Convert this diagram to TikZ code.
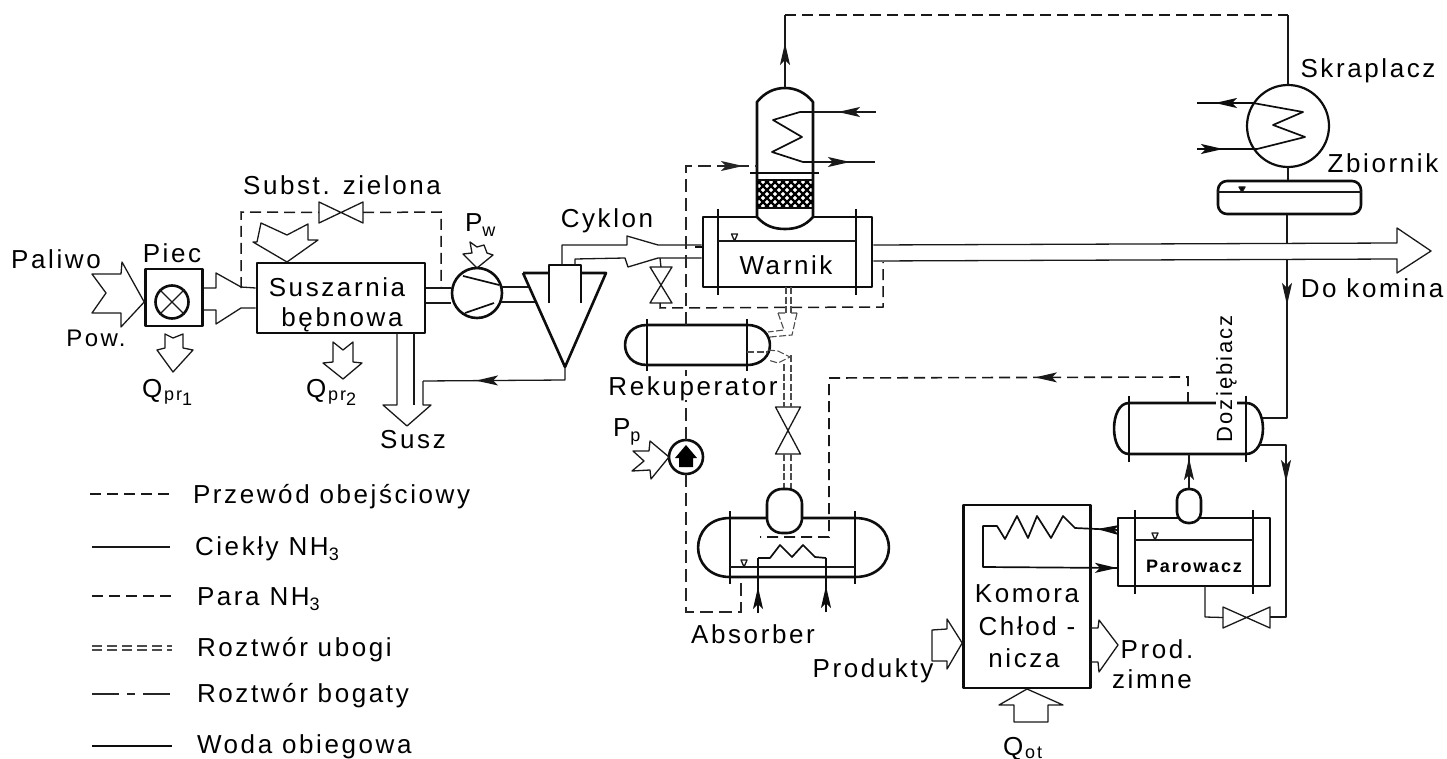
\documentclass[tikz,border=0pt]{standalone}
\usepackage{fontspec}
\setmainfont[LetterSpace=10]{Liberation Sans}
\usetikzlibrary{arrows.meta,decorations.markings,calc}
\newcommand{\hvessel}[8]{%
  \node[ghost,minimum width={(#3-#2)*1pt},minimum height={(#5-#4)*1pt}] (#1) at ({(#2+#3)/2},{(#4+#5)/2}) {};
  \draw[heavy,fill=white] (#1.north west) -- (#1.north east)
    .. controls +({#7*1.33},0) and +({#7*1.33},0) .. (#1.south east) -- (#1.south west)
    .. controls +({-#6*1.33},0) and +({-#6*1.33},0) .. (#1.north west) -- cycle;
  \draw[heavy] ([yshift=#8pt]#1.north west) -- ([yshift=-#8pt]#1.south west);
  \draw[heavy] ([yshift=#8pt]#1.north east) -- ([yshift=-#8pt]#1.south east);
}
\newcommand{\hshell}[7]{%
  \node[heavy,draw,inner sep=0pt,minimum width={(#2-#1)*1pt},minimum height={(#4-#3)*1pt}] (#7) at ({(#1+#2)/2},{(#3+#4)/2}) {};
  \draw[heavy] ({#5},{#3-8}) -- ({#5},{#4+8});
  \draw[heavy] ({#6},{#3-8}) -- ({#6},{#4+8});
}
\newcommand{\lvl}[2]{\draw[pipe] (#1,#2) -- ++(-3,-7) -- ++(6,0) -- cycle;}
\newcommand{\hvalve}[1]{\draw[pipe] (#1.north west) -- (#1.south east) -- (#1.north east) -- (#1.south west) -- cycle;}
\newcommand{\vvalve}[1]{\draw[pipe] (#1.north west) -- (#1.north east) -- (#1.south west) -- (#1.south east) -- cycle;}
\newcommand{\ssub}[1]{{\fontsize{18}{18}\selectfont #1}}
\begin{document}
\begin{tikzpicture}[x=1pt,y=-1pt,
  pipe/.style={line width=1.3pt,black!90,line join=round},
  heavy/.style={line width=2.6pt,black!95,line join=round},
  coilw/.style={line width=1.7pt,black!95,line join=round},
  vapour/.style={line width=1.6pt,black!90,dash pattern=on 11pt off 6pt},
  bypass/.style={line width=1.5pt,black!90,dash pattern=on 11pt off 6pt},
  rich/.style={line width=1.1pt,black!85,dash pattern=on 13pt off 6pt},
  poor/.style={line width=1.1pt,black!70,dash pattern=on 7pt off 2.5pt},
  ghost/.style={inner sep=0pt,outer sep=0pt,draw=none},
  lbl/.style={inner sep=0pt,outer sep=0pt,anchor=base,font=\fontsize{26}{28}\selectfont,text=black},
  lblw/.style={lbl,anchor=base west},
  arrowat/.style={postaction={decorate,decoration={markings,mark=at position #1pt with {\arrow{Stealth[length=22pt,width=10pt,inset=5pt]}}}}}
]
\path[use as bounding box] (0,0) rectangle (1447,759);

%% ---- left train: furnace, dryer
\node[heavy,draw,inner sep=0pt,minimum size=57pt] (piec) at (174,297.5) {};
\node[heavy,draw,circle,inner sep=0pt,minimum size=33pt] (palnik) at (172,302) {};
\draw[pipe] (palnik.north west) -- (palnik.south east) (palnik.north east) -- (palnik.south west);
\draw[pipe] (92,274) -- (121,274) -- (122,262) -- (piec.west |- palnik) -- (121,327) -- (121,313) -- (92,313) -- (106,293) -- cycle;
\node[heavy,draw,inner sep=0pt,minimum width=168pt,minimum height=70pt] (susz) at (341,298) {};
\draw[pipe] (piec.east |- 0,288) -- (216,288) -- (216,273) -- (241,287) -- (susz.west |- 0,288);
\draw[pipe] (piec.east |- 0,310) -- (216,310) -- (216,324) -- (241,308) -- (susz.west |- 0,308);
\draw[pipe] (165,334) -- (173,338) -- (183,334) -- (183,348) -- (193,350) -- (173,372) -- (157,350) -- (165,348) -- cycle;
\draw[pipe] (333,342) -- (343,350) -- (353,342) -- (353,362) -- (362,363) -- (343,379) -- (323,363) -- (333,362) -- cycle;
\draw[pipe] (261,223) -- (287,235) -- (308,224) -- (308,240) -- (318,240) -- (287,262) -- (253,242) -- (257,242) -- cycle;
\node[ghost,minimum width=44pt,minimum height=21pt] (vz) at (341,212.5) {};
\hvalve{vz}
\draw[bypass] (241,288) -- (241,212) -- (vz.west);
\draw[bypass] (vz.east) -- (441,212) -- (441,287);

%% product outlet
\draw[pipe] (397,333) -- (397,405) -- (383,405) -- (407,426) -- (431,405) -- (423,405) -- (423,381);
\draw[pipe] (414,333) -- (414,405);

%% fan and cyclone
\node[heavy,draw,circle,inner sep=0pt,minimum size=50pt] (fan) at (477,293) {};
\draw[coilw] (463,276) -- (499,285) (465,313) -- (494,303);
\draw[pipe] (susz.east |- 0,288) -- (fan.west |- 0,288) (susz.east |- 0,303) -- (fan.west |- 0,303);
\coordinate (cL) at (565,367);
\draw[pipe] (501,287) -- (530,287) (501,302) -- (536,302);
\draw[heavy] (523,273) -- (549,273) (581,273) -- (606,273) -- (cL) -- (523,273);
\draw[heavy] (549,303) -- (549,265) -- (581,265) -- (581,303);
\draw[pipe] (470,242) -- (477,247) -- (484,245) -- (487,253) -- (493,255) -- (477,268) -- (463,254) -- (472,253) -- cycle;
\draw[pipe,arrowat=102] (cL) -- (565,380) -- (423,381);

%% Warnik
\hshell{703}{872}{217}{287}{718}{856}{warnik}
\draw[pipe] (718,241) -- (856,241);
\lvl{734.5}{241}
\draw[heavy] (695,247) -- (warnik.west |- 0,247);
%% column
\node[ghost,minimum width=56pt,minimum height=141pt] (kol) at (785,158.5) {};
\draw[heavy,fill=white] (kol.south west |- 0,217) -- (757,102) .. controls (765,92) and (775,88) .. (kol.north)
  .. controls (795,88) and (805,92) .. (813,102) -- (813,217) .. controls (805,226) and (796,229) .. (kol.south)
  .. controls (774,229) and (765,226) .. (757,217) -- cycle;
\begin{scope}
  \clip (757,180) rectangle (813,208);
  \foreach \q in {-32,-24,...,64}{
    \draw[line width=2.3pt] (757+\q,180) -- ++(28,28);
    \draw[line width=2.3pt] (757+\q+28,180) -- ++(-28,28);
  }
\end{scope}
\draw[heavy] (757,180) -- (813,180) (757,208) -- (813,208);
\draw[heavy] (750,173) -- (819,173);
\coordinate (kin) at (876,112);
\coordinate (kout) at (875,162);
\draw[pipe,arrowat=38] (kin) -- (kol.east |- kin);
\draw[coilw] (kol.east |- kin) -- (800,112) -- (773,120) -- (802,137) -- (772,152) -- (803,162) -- (kol.east |- kout);
\draw[pipe,arrowat=37] (kol.east |- kout) -- (kout);

%% cyclone gas line to Warnik
\draw[pipe] (562,265) -- (562,245) -- (627,245) -- (627,236) -- (658,245) -- (warnik.west |- 0,245);
\draw[pipe] (575,265) -- (575,259) -- (625,258) -- (628,267) -- (658,258) -- (warnik.west |- 0,258);
\node[ghost,minimum width=22pt,minimum height=36pt] (vb) at (661,285) {};
\vvalve{vb}
\draw[pipe] (660,258) -- (vb.north);
\coordinate (bp2) at (883,262);
\draw[bypass] (660,303) -- (660,308) -- (883,307) -- (bp2);

%% outlet to stack
\draw[pipe] (warnik.east |- 0,245) -- (1397,243) -- (1397,228) -- (1431,251) -- (1397,273) -- (1397,259) -- (warnik.east |- 0,261);

%% condenser and receiver
\node[circle,draw,line width=2.2pt,black!95,inner sep=0pt,outer sep=0pt,minimum size=82pt] (skr) at (1288,126) {};
\coordinate (sk1) at (1197,103);
\coordinate (sk2) at (1197,149);
\draw[coilw,arrowat=38] (1253,103) -- (sk1);
\draw[coilw,arrowat=26] (sk2) -- (1257,149);
\draw[coilw] (1253,103) -- (1303,112) -- (1273,125) -- (1305,137) -- (1257,149);
\coordinate (top1) at (785,15);
\coordinate (top2) at (1288,15);
\draw[pipe,arrowat=45] (kol.north) -- (top1);
\draw[vapour] (top1) -- (top2);
\draw[pipe] (top2) -- (skr.north);
\node[heavy,draw,rounded corners=9pt,inner sep=0pt,minimum width=143pt,minimum height=33pt] (zb) at (1289.5,197.5) {};
\draw[pipe] (zb.north west |- 0,192) -- (zb.north east |- 0,192);
\draw[pipe,fill=black] (1242,192) -- ++(-3,-5) -- ++(6,0) -- cycle;
\draw[pipe] (skr.south) -- (zb.north -| skr.south);
\coordinate (z1) at (1287,243);
\coordinate (z2) at (1287,259);
\draw[pipe] (zb.south -| z1) -- (z1);
\draw[pipe,arrowat=46] (z2) -- (1287,418) -- (1262,418);

%% Rekuperator
\hvessel{rek}{647}{747}{325}{365}{22}{23}{6}
\coordinate (rk1) at (686,325);
\coordinate (rk2) at (686,365);
\draw[rich,arrowat=216] (rk1) -- (686,166) -- (kol.west |- 0,166);
\node[heavy,draw,circle,inner sep=0pt,outer sep=0pt,minimum size=34pt] (pompa) at (686,457) {};
\draw[rich] (pompa.north) -- (rk2);
\fill[black] (675,458) -- (686,445) -- (697,458) -- (693,458) -- (693,467) -- (679,467) -- (679,458) -- cycle;
\draw[pipe] (633,451) -- (649,451) -- (650,441) -- (pompa.west) -- (651,479) -- (650,470) -- (632,471) -- (644,461) -- cycle;

%% rich/poor solution double lines
\draw[poor] (786,287) -- (786,313) (791,287) -- (791,313);
\draw[poor] (778,313) -- (785,313) (778,313) -- (784,330) -- (768,332);
\draw[poor] (797,313) -- (792,335) -- (770,337) (791,313) -- (797,313);
\draw[poor] (747,352) -- (768,352);
\draw[poor] (768,350) -- (778,351) -- (790,357) -- (778,363) -- (768,360);
\node[ghost,minimum width=25pt,minimum height=47pt] (vr) at (788,430.5) {};
\vvalve{vr}
\draw[poor] (784,364) -- (784,407) (791,355) -- (791,407);
\draw[poor] (784,454) -- (784,489) (791,454) -- (791,489);

%% Absorber
\hvessel{abs}{730}{855}{518}{577}{32}{34}{7}
\node[heavy,draw,fill=white,rounded corners=15pt,inner sep=0pt,outer sep=0pt,minimum width=35pt,minimum height=44pt] (kap) at (784.5,511) {};
\draw[pipe,line width=1.6pt] (abs.west |- 0,567) -- (abs.east |- 0,567);
\lvl{744}{567}
\coordinate (ac1) at (758,613);
\coordinate (ac2) at (826,612);
\draw[coilw,arrowat=26] (ac1) -- (758,558);
\draw[coilw,arrowat=26] (ac2) -- (826,558);
\draw[coilw] (758,558) -- (770,558) -- (780,545) -- (792,557) -- (803,545) -- (815,557) -- (826,558);
\coordinate (ab1) at (741,578);
\draw[rich] (pompa.south) -- (686,612) -- (741,612) -- (ab1);

%% Doziebiacz, Parowacz
\hvessel{doz}{1129}{1246}{403}{454}{15}{17}{7.5}
\draw[vapour,arrowat=179] (doz.north -| 1188,0) -- (1188,377) -- (829,378) -- (829,537) -- (760,537);
\draw[pipe,arrowat=63] (1260,445) -- (1286,445) -- (1286,617) -- (1270,617);
\node[ghost,minimum width=47pt,minimum height=21pt] (vp) at (1246.5,617.5) {};
\hvalve{vp}
\hshell{1118}{1270}{518}{586}{1135}{1253}{par}
\draw[pipe] (vp.west) -- (1205,617) -- (1205,586);
\draw[pipe] (1135,540) -- (1253,540);
\lvl{1155}{540}
\node[heavy,draw,fill=white,rounded corners=11pt,inner sep=0pt,outer sep=0pt,minimum width=24pt,minimum height=34pt] (kap2) at (1189,506) {};
\draw[pipe,line width=1.7pt,arrowat=31] (kap2.north) -- (kap2.north |- doz.south);

%% cold chamber
\node[heavy,draw,inner sep=0pt,minimum width=127pt,minimum height=183pt] (kom) at (1027,596.5) {};
\draw[coilw,arrowat=21,arrowat=-1] (1118,530) -- (1075,528) -- (1063,516) -- (1051,538) -- (1037,516) -- (1028,538) -- (1017,516) -- (1005,539) -- (997,526) -- (983,526) -- (983,567) -- (1118,568);
\draw[pipe] (1090,628) -- (1098,628) -- (1099,620) -- (1118,645) -- (1099,672) -- (1098,662) -- (1090,662);
\draw[pipe] (932,630) -- (947,629) -- (947,619) -- (kom.west |- 0,643) -- (947,669) -- (947,661) -- (932,661) -- cycle;
\draw[pipe] (kom.south |- 0,689) -- (1063,705) -- (1048,705) -- (1048,722) -- (1014,722) -- (1014,705) -- (999,705) -- cycle;

%% legend lines
\coordinate (la1) at (90,494);  \coordinate (lb1) at (172,494);
\coordinate (la2) at (92,547);  \coordinate (lb2) at (170,547);
\coordinate (la3) at (92,596);  \coordinate (lb3) at (172,596);
\coordinate (la4) at (92,646);  \coordinate (lb4) at (172,646);
\coordinate (la5) at (92,694);  \coordinate (lb5) at (172,694);
\coordinate (la6) at (92,746);  \coordinate (lb6) at (172,746);
\draw[bypass,line width=1.2pt] (la1) -- (lb1);
\draw[pipe] (la2) -- (lb2);
\draw[vapour,line width=1.3pt] (la3) -- (lb3);
\draw[poor,dash pattern=on 10pt off 5pt] (la4) -- (lb4) ([yshift=-4pt]la4) -- ([yshift=-4pt]lb4);
\draw[rich,dash pattern=on 27pt off 8pt on 8pt off 8pt] (la5) -- (lb5);
\draw[heavy] (la6) -- (lb6);

%% labels
\node[lbl] (tPal) at (56,269) {Paliwo};
\node[lbl] (tPie) at (172,262) {Piec};
\node[lbl,font=\fontsize{24}{26}\selectfont] (tPow) at (96,346) {Pow.};
\node[lblw] (tQ1) at (142,397) {Q\kern2pt\raisebox{-3pt}{\ssub{pr}\raisebox{-5pt}{\ssub{1}}}};
\node[lblw] (tQ2) at (306,397) {Q\kern2pt\raisebox{-3pt}{\ssub{pr}\raisebox{-5pt}{\ssub{2}}}};
\node[lbl] (tSub) at (342,195) {Subst. zielona};
\node[lbl] (tS1) at (337,296) {Suszarnia};
\node[lbl] (tS2) at (342,326) {bębnowa};
\node[lbl] (tSu) at (413,448) {Susz};
\node[lblw] (tPw) at (465,232) {P\raisebox{-5pt}{\ssub{w}}};
\node[lbl] (tCy) at (607,228) {Cyklon};
\node[lbl] (tWa) at (786,274) {Warnik};
\node[lbl,fill=white] (tRe) at (693,395) {Rekuperator};
\node[lblw] (tPp) at (613,436) {P\raisebox{-5pt}{\ssub{p}}};
\node[lbl] (tAb) at (753,643) {Absorber};
\node[lbl] (tSk) at (1368,78) {Skraplacz};
\node[lbl] (tZb) at (1383,173) {Zbiornik};
\node[lbl] (tDo) at (1372,297) {Do komina};
\node[lbl,fill=white,rotate=90,anchor=base,font=\fontsize{22}{24}\selectfont] (tDz) at (1232,379) {Doziębiacz};
\node[lbl,font=\bfseries\fontsize{18}{20}\selectfont] (tPa) at (1194,572) {Parowacz};
\node[lbl] (tKo) at (1027,602) {Komora};
\node[lbl] (tCh) at (1027,635) {Chłod -};
\node[lbl] (tNi) at (1024,667) {nicza};
\node[lbl] (tPr) at (873,677) {Produkty};
\node[lbl] (tPz) at (1157,658) {Prod.};
\node[lbl] (tZi) at (1152,688) {zimne};
\node[lblw] (tQo) at (1003,755) {Q\kern2pt\raisebox{-3pt}{\ssub{ot}}};
\node[lblw] (lg1) at (193,503) {Przewód obejściowy};
\node[lblw] (lg2) at (195,555) {Ciekły NH\raisebox{-5pt}{\ssub{3}}};
\node[lblw] (lg3) at (197,605) {Para NH\raisebox{-5pt}{\ssub{3}}};
\node[lblw] (lg4) at (197,656) {Roztwór ubogi};
\node[lblw] (lg5) at (197,702) {Roztwór bogaty};
\node[lblw] (lg6) at (197,753) {Woda obiegowa};
\end{tikzpicture}
\end{document}
